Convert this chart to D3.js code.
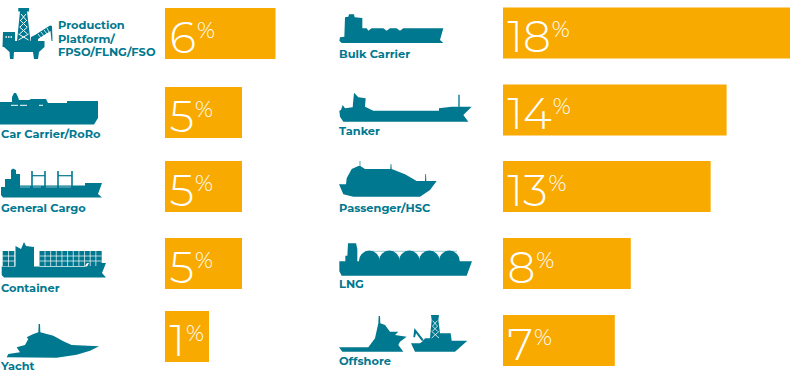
<!DOCTYPE html>
<html><head><meta charset="utf-8">
<script src="https://cdn.jsdelivr.net/npm/d3@7/dist/d3.min.js"></script>
<style>html,body{margin:0;padding:0;background:#fff}svg{display:block}</style>
</head><body><div id="c"></div>
<script>
const leftCategories = [["Production","Platform/","FPSO/FLNG/FSO"],["Car Carrier/RoRo"],["General Cargo"],["Container"],["Yacht"]];
const leftValues = [6,5,5,5,1];
const rightCategories = [["Bulk Carrier"],["Tanker"],["Passenger/HSC"],["LNG"],["Offshore"]];
const rightValues = [18,14,13,8,7];
const leftDomainStops = [1,5,6];
const leftRangeStops = [44,77,110.5];
const leftTops=[8,87,161,238,311], rightTops=[7.5,84.5,161,238,315];
const leftLabelY=[29,138,212,292,370], rightLabelY=[58,135,212,288,365];
const teal="#00788f", amber="#f9aa00";
const W=790,H=374,BH=51;
const svg=d3.select("#c").append("svg").attr("width",W).attr("height",H);
const leftX=d3.scaleLinear().domain(leftDomainStops).range(leftRangeStops);
const rightX=d3.scaleLinear().domain([0,18]).range([0,287.5]);
function col(vals,tops,x0,scale){
  const g=svg.append("g").attr("transform",`translate(${x0},0)`);
  const r=g.selectAll("g").data(vals).join("g").attr("transform",(d,i)=>`translate(0,${tops[i]})`);
  r.append("rect").attr("width",d=>scale(d)).attr("height",BH).attr("fill",amber);
  const t=r.append("text").attr("x",4.5).attr("y",44.5).attr("fill","#fff").attr("font-family","Montserrat, Lato").attr("font-weight",300);
  t.append("tspan").attr("font-size",44).text(d=>d);
  t.append("tspan").attr("font-size",22).attr("dy",-15).attr("dx",1).text("%");
}
col(leftValues,leftTops,165,leftX);
col(rightValues,rightTops,503,rightX);
function labels(cats,ys,x0){
  svg.append("g").selectAll("text").data(cats).join("text")
    .attr("y",(d,i)=>ys[i]).attr("fill",teal).attr("font-family","Montserrat, Inter").attr("font-weight",700).attr("font-size",11.4)
    .each(function(d){d3.select(this).selectAll("tspan").data(d).join("tspan").attr("x",typeof x0==="function"?x0(d):x0).attr("dy",(_,j)=>j?13.5:0).text(s=>s);});
}
labels(leftCategories,leftLabelY,d=>d.length>1?58:1);
labels(rightCategories,rightLabelY,339);

// ---- decorative ship silhouettes (traced in pixel units)
const line=d3.line();
const icons=svg.append("g").attr("fill",teal);
const poly=(pts)=>icons.append("path").attr("d",line(pts)+"Z");
const scaled=(ox,oy,pts)=>poly(pts.map(([a,b])=>[a/3+ox,b/3+oy]));
const white=(pts,w=0.7)=>icons.append("path").attr("d",line(pts)).attr("fill","none").attr("stroke","#fff").attr("stroke-width",w);
const stick=(pts,w=1)=>icons.append("path").attr("d",line(pts)).attr("fill","none").attr("stroke",teal).attr("stroke-width",w);

// platform
poly([[18.3,8],[29,8],[29,11.5],[27,11.5],[30.5,41],[44.5,41],[44.5,47],[39,52],[38,59],[34,59],[33,52],[14,52],[13.5,59],[10,59],[9.5,52],[4,47],[2.5,47],[3,32],[15,32],[15,41],[17,41],[20,11.5],[18.3,11.5]]);
[[21,14,26,20],[26,14,21,20],[20,20,27,27],[27,20,20,27],[19.5,27,27.5,34],[27.5,27,19.5,34],[18.5,34,28.5,40],[28.5,34,18.5,40]].forEach(([a,b,c,d])=>white([[a,b],[c,d]],1));
poly([[31,41],[31,37],[35,35],[50,25.5],[52,26],[52.5,41],[51.5,41],[50.5,31],[38,39],[38,41]]);
[[38,34,41,38],[41,32,44,36],[44,30,47,34],[47,28,49,32]].forEach(([a,b,c,d])=>white([[a,b],[c,d]],0.8));
[5.5,8,10.5].forEach(x=>white([[x,37],[x+1.5,37]],1.4));

// car carrier
poly([[0,102],[12,102],[12,97],[14,93],[16,93],[18,97],[19,100],[29,100],[31,99],[46,99],[48,103],[67,103],[67,101],[98,101],[98,118],[94,124.5],[0,124.5]]);
[[11,18],[20,27],[39,43]].forEach(([a,b])=>white([[a,105.3],[b,105.3]],1));

// general cargo
poly([[1,187],[5,187],[5,179],[11,179],[11,170],[13,168.5],[16,170],[16,174],[20,174],[20,185.5],[85,185.5],[85,183],[102,183],[98,194],[102,197.5],[3,197.5],[1,195]]);
[32,45,58,72].forEach(x=>stick([[x,171],[x,186]],1.6));
[[32,45],[58,72]].forEach(([a,b])=>stick([[a,175.7],[b,175.7]],1.2));
[[20,30],[33,41],[46,57],[59,71]].forEach(([a,b])=>white([[a,187],[b,187]],0.5));

// container
poly([[1.7,266.5],[15.5,266.5],[15.5,246],[21,249],[24,242],[26,246],[34,247],[34,266.5],[87,266.5],[89,263],[106,263],[102,273],[106,277.5],[4,277.5],[1.7,275]]);
poly([[2.7,251],[15,251],[15,266],[2.7,266]]);
poly([[39.5,251],[101.7,251],[101.7,263],[87,263],[85,266],[39.5,266]]);
d3.range(8.5,15,6).forEach(x=>white([[x,251],[x,266.5]]));
d3.range(45,100,5.65).forEach(x=>white([[x,251],[x,266]]));
[256,261].forEach(v=>{white([[2.7,v],[15,v]]);white([[39.5,v],[101.7,v]]);});
white([[39.5,266.5],[85,266.5]],0.4);

// yacht
scaled(0,184,[[20,520],[25,510],[60,505],[50,490],[75,483],[85,465],[80,460],[100,450],[115,445],[116,420],[120,420],[121,445],[160,455],[190,472],[215,483],[297,487],[270,500],[230,512],[170,521]]);

// bulk carrier
scaled(330,0,[[30,112],[43,110],[45,52],[55,50],[57,43],[72,43],[74,52],[97,54],[97,85],[110,85],[115,92],[125,85],[160,85],[170,92],[180,85],[200,85],[210,92],[220,85],[340,85],[330,120],[340,129],[35,129],[28,122]]);

// tanker
scaled(330,0,[[28,332],[33,330],[38,315],[45,325],[68,322],[72,278],[85,292],[107,295],[105,320],[130,332],[327,332],[327,325],[365,320],[385,320],[385,284],[389,284],[389,320],[425,320],[400,345],[415,365],[40,365],[30,350]]);

// passenger
scaled(335,155,[[12,88],[33,88],[35,70],[50,42],[70,33],[74,33],[74,18],[76,18],[76,33],[90,42],[166,42],[167,27],[169,27],[170,42],[210,58],[245,78],[270,78],[271,57],[273,57],[274,78],[305,78],[285,105],[255,125],[55,125],[25,118]]);

// lng
scaled(330,184,[[28,232],[46,232],[46,215],[52,215],[54,178],[78,178],[82,195],[82,232],[88,232],[426,232],[410,275],[35,275],[28,262]]);
d3.range(118,359,60).forEach(cx=>icons.append("circle").attr("cx",cx/3+330).attr("cy",261).attr("r",10.4));
stick([[372,251.3],[457,251.3]],0.4);

// offshore
scaled(335,310,[[12,112],[100,112],[120,85],[130,40],[131,18],[135,18],[136,40],[150,45],[165,65],[190,65],[180,75],[215,80],[195,95],[190,105],[205,125],[22,125]]);
scaled(335,310,[[228,100],[255,100],[265,92],[270,85],[285,85],[290,30],[288,15],[312,15],[310,30],[315,70],[347,70],[350,92],[397,92],[360,125],[240,125]]);
[[293,32,307,48],[307,32,293,48],[292,48,308,64],[308,48,292,64],[290,64,312,84],[312,64,290,84]].forEach(([a,b,c,d])=>white([[a/3+335,b/3+310],[c/3+335,d/3+310]],0.8));
scaled(335,310,[[268,92],[243,60],[238,55],[235,82],[240,82],[243,70],[260,92]]);
</script></body></html>
